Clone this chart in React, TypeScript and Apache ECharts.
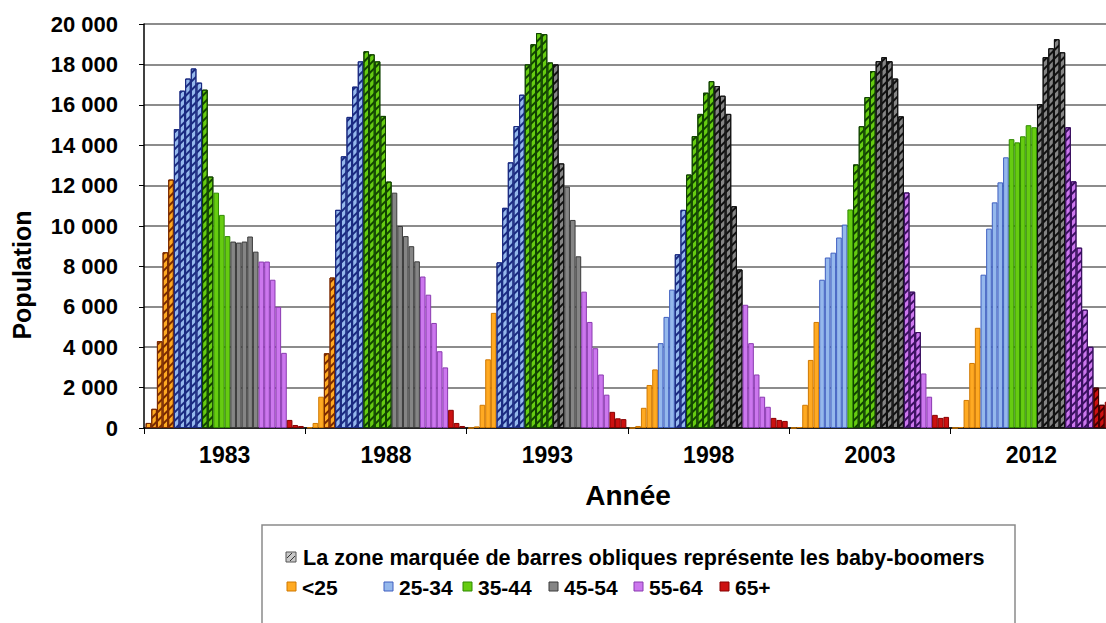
import React, { useEffect, useRef } from 'react';
import * as echarts from 'echarts';

const years = ['1983', '1988', '1993', '1998', '2003', '2012'];
const ageGroups = ['<25', '25-34', '35-44', '45-54', '55-64', '65+'];
const barsPerGroup = [5, 5, 5, 5, 5, 3];

const pop1983 = [250, 950, 4300, 8700, 12300, 14800, 16700, 17300, 17800, 17100, 16750, 12450, 11650, 10550, 9500, 9230, 9180, 9230, 9480, 8730, 8240, 8240, 7340, 6000, 3720, 400, 150, 100];
const pop1988 = [30, 250, 1550, 3700, 7450, 10800, 13450, 15400, 16900, 18150, 18650, 18500, 18150, 15450, 12200, 11650, 10000, 9500, 9000, 8250, 7500, 6600, 5200, 3800, 3000, 900, 250, 100];
const pop1993 = [0, 80, 1150, 3400, 5700, 8200, 10900, 13150, 14950, 16500, 18000, 19000, 19550, 19500, 18100, 18000, 13100, 11950, 10300, 8500, 6750, 5250, 3950, 2650, 1650, 800, 480, 440];
const pop1998 = [0, 100, 1000, 2130, 2900, 4200, 5500, 6850, 8600, 10800, 12550, 14450, 15550, 16600, 17170, 16930, 16450, 15550, 10980, 7850, 6100, 4200, 2650, 1550, 1050, 500, 400, 350];
const pop2003 = [0, 50, 1150, 3370, 5250, 7340, 8440, 8680, 9430, 10070, 10820, 13050, 14940, 16380, 17670, 18160, 18360, 18160, 17300, 15430, 11660, 6750, 4750, 2700, 1550, 650, 500, 550];
const pop2012 = [0, 50, 1390, 3220, 4960, 7590, 9870, 11170, 12160, 13400, 14300, 14140, 14440, 14990, 14890, 16030, 18360, 18800, 19250, 18600, 14890, 12210, 8930, 5860, 4020, 2000, 1150, 1300];

// baby-boomer (hatched) bar index range per year
const boomerStart = [0, 3, 5, 8, 11, 15];
const boomerEnd = [11, 14, 16, 19, 22, 26];

const yTicks = [0, 2000, 4000, 6000, 8000, 10000, 12000, 14000, 16000, 18000, 20000];

const legendNote = 'La zone marquée de barres obliques représente les baby-boomers';
const xTitle = 'Année';
const yTitle = 'Population';

const fills = ['#FFAA22', '#95B8EC', '#66CC11', '#858585', '#CC77EE', '#CC1111'];
const borders = ['#D07800', '#3F5FC0', '#2F8A00', '#3A3A3A', '#8A3AB0', '#880000'];
const hatchColors = ['#7A2A00', '#1A2A80', '#114400', '#111111', '#3A1060', '#440000'];

const allPops = [pop1983, pop1988, pop1993, pop1998, pop2003, pop2012];

const FONT = '"Liberation Sans", Arial, sans-serif';

function fmt(v: number) {
  return String(v).replace(/\B(?=(\d{3})+(?!\d))/g, ' ');
}

export default function App() {
  const ref = useRef<HTMLDivElement>(null);
  useEffect(() => {
    if (!ref.current) return;
    const chart = echarts.init(ref.current, undefined, { renderer: 'svg' });

    const series: any[] = [];
    let idx = 0;
    ageGroups.forEach((g, gi) => {
      for (let k = 0; k < barsPerGroup[gi]; k++) {
        const i = idx++;
        series.push({
          type: 'bar',
          name: g,
          barGap: '0%',
          barCategoryGap: '2%',
          itemStyle: { color: fills[gi], borderColor: borders[gi], borderWidth: 1 },
          data: years.map((_, yi) => {
            const v = allPops[yi][i];
            const hatched = i >= boomerStart[yi] && i <= boomerEnd[yi];
            if (!hatched) return v;
            return {
              value: v,
              itemStyle: {
                borderColor: hatchColors[gi],
                decal: {
                  symbol: 'rect',
                  symbolSize: 1,
                  dashArrayX: [1, 0],
                  dashArrayY: [2, 4],
                  rotation: -Math.PI / 4,
                  color: hatchColors[gi],
                },
              },
            };
          }),
        });
      }
    });

    const legendIconX = [287, 384, 463, 549, 634, 720];
    const graphic: any[] = [
      { type: 'rect', shape: { x: 262, y: 525, width: 753, height: 130 }, style: { fill: '#fff', stroke: '#8a8a8a', lineWidth: 1.5 } },
      { type: 'rect', shape: { x: 286, y: 552, width: 10, height: 10 }, style: { fill: '#c8c8c8', stroke: '#555', lineWidth: 1 } },
      { type: 'line', shape: { x1: 287, y1: 558, x2: 292, y2: 553 }, style: { stroke: '#333', lineWidth: 1 } },
      { type: 'line', shape: { x1: 290, y1: 561, x2: 295, y2: 556 }, style: { stroke: '#333', lineWidth: 1 } },
      { type: 'text', x: 303, y: 557, style: { text: legendNote, fontFamily: FONT, fontWeight: 'bold', fontSize: 21.6, fill: '#000', verticalAlign: 'middle' } },
      { type: 'text', x: 22, y: 275, rotation: Math.PI / 2, style: { text: yTitle, fontFamily: FONT, fontWeight: 'bold', fontSize: 25, fill: '#000', align: 'center', verticalAlign: 'middle' } },
    ];
    ageGroups.forEach((g, gi) => {
      graphic.push({ type: 'rect', shape: { x: legendIconX[gi], y: 582, width: 9, height: 9 }, style: { fill: fills[gi], stroke: borders[gi], lineWidth: 1 } });
      graphic.push({ type: 'text', x: legendIconX[gi] + 15, y: 587, style: { text: g, fontFamily: FONT, fontWeight: 'bold', fontSize: 21, fill: '#000', verticalAlign: 'middle' } });
    });

    chart.setOption({
      animation: false,
      grid: { left: 144, top: 24, right: -6, bottom: 195, outerBoundsMode: 'none' },
      xAxis: {
        type: 'category',
        data: years,
        axisLine: { lineStyle: { color: '#000', width: 1.5 } },
        axisTick: { show: true, length: 6, lineStyle: { color: '#000' } },
        axisLabel: { fontFamily: FONT, fontWeight: 'bold', fontSize: 23, color: '#000', margin: 15 },
        name: xTitle,
        nameLocation: 'middle',
        nameGap: 53,
        nameTextStyle: { fontFamily: FONT, fontWeight: 'bold', fontSize: 28, color: '#000' },
      },
      yAxis: {
        type: 'value',
        min: yTicks[0],
        max: yTicks[yTicks.length - 1],
        interval: yTicks[1] - yTicks[0],
        axisLine: { show: true, lineStyle: { color: '#000', width: 1.5 } },
        axisTick: { show: true, length: 5, lineStyle: { color: '#000' } },
        axisLabel: { fontFamily: FONT, fontWeight: 'bold', fontSize: 22, color: '#000', margin: 26, formatter: (v: number) => fmt(v) },
        splitLine: { lineStyle: { color: '#8c8c8c', width: 2 } },
      },
      series,
      graphic,
    });
    return () => chart.dispose();
  }, []);
  return <div ref={ref} style={{ position: 'absolute', left: 0, top: 0, width: 1106, height: 623 }} />;
}
